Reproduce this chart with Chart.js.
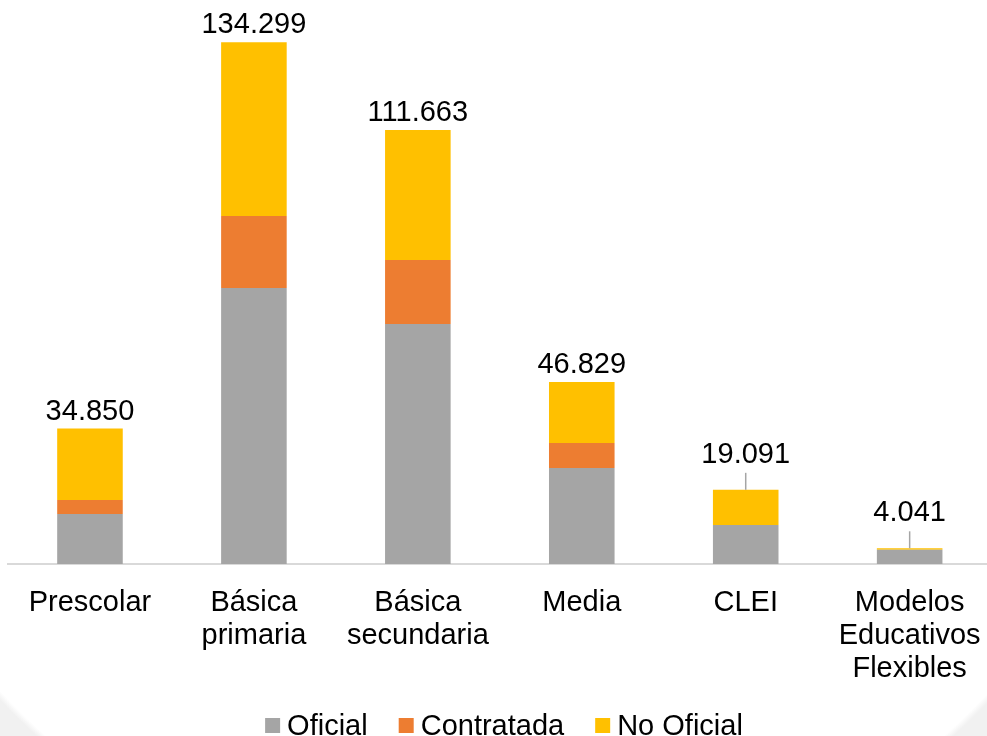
<!DOCTYPE html>
<html>
<head>
<meta charset="utf-8">
<script src="https://cdn.jsdelivr.net/npm/chart.js@4/dist/chart.umd.min.js"></script>
<style>
  html, body { margin: 0; padding: 0; overflow: hidden; }
  body {
    width: 987px;
    height: 736px;
    background: radial-gradient(ellipse 660px 620px at 495px 290px, #ffffff 99%, #f1f1f1 100%);
  }
  #wrap { position: absolute; left: 0; top: 0; width: 1003px; height: 736px; }
</style>
</head>
<body>
<div id="wrap"><canvas id="chart"></canvas></div>
<script>
const categories = [
  ['Prescolar'],
  ['Básica', 'primaria'],
  ['Básica', 'secundaria'],
  ['Media'],
  ['CLEI'],
  ['Modelos', 'Educativos', 'Flexibles']
];
const oficial = [12865, 71010, 61750, 24700, 10035, 3640];
const contratada = [3600, 18525, 16470, 6430, 0, 0];
const noOficial = [18385, 44764, 33443, 15699, 9056, 401];

const FONT = '"Liberation Sans", Arial, sans-serif';

function fmt(n) {
  return String(n).replace(/\B(?=(\d{3})+(?!\d))/g, '.');
}

// totals above each stack; the two small bars get a leader line
const totalLabels = {
  id: 'totalLabels',
  afterDatasetsDraw(chart) {
    const ctx = chart.ctx;
    const y = chart.scales.y;
    const meta = chart.getDatasetMeta(0);
    const lifted = [false, false, false, false, true, true];
    ctx.save();
    ctx.font = '29px ' + FONT;
    ctx.fillStyle = '#000';
    ctx.textAlign = 'center';
    ctx.textBaseline = 'alphabetic';
    meta.data.forEach((bar, i) => {
      const total = oficial[i] + contratada[i] + noOficial[i];
      const top = y.getPixelForValue(total);
      const x = bar.x;
      if (lifted[i]) {
        ctx.strokeStyle = '#a5a5a5';
        ctx.lineWidth = 1.5;
        ctx.beginPath();
        ctx.moveTo(x, top);
        ctx.lineTo(x, top - 17);
        ctx.stroke();
        ctx.fillText(fmt(total), x, top - 27);
      } else {
        ctx.fillText(fmt(total), x, top - 9);
      }
    });
    ctx.restore();
  }
};

// legend at the bottom, drawn by hand to match the square/text spacing
const bottomLegend = {
  id: 'bottomLegend',
  afterDraw(chart) {
    const ctx = chart.ctx;
    const items = chart.data.datasets.map((d) => ({ text: d.label, color: d.backgroundColor }));
    ctx.save();
    ctx.font = '29px ' + FONT;
    const box = 15, gap = 7, between = 31;
    let total = 0;
    items.forEach((it, i) => {
      it.w = ctx.measureText(it.text).width;
      total += box + gap + it.w + (i ? between : 0);
    });
    let x = 504 - total / 2;
    const cy = 725;
    ctx.textBaseline = 'alphabetic';
    items.forEach((it) => {
      ctx.fillStyle = it.color;
      ctx.fillRect(x, cy - 7, box, box);
      ctx.fillStyle = '#000';
      ctx.fillText(it.text, x + box + gap, cy + 10);
      x += box + gap + it.w + between;
    });
    ctx.restore();
  }
};

new Chart(document.getElementById('chart'), {
  type: 'bar',
  data: {
    labels: categories,
    datasets: [
      { label: 'Oficial', data: oficial, backgroundColor: '#a5a5a5' },
      { label: 'Contratada', data: contratada, backgroundColor: '#ed7d31' },
      { label: 'No Oficial', data: noOficial, backgroundColor: '#ffc000' }
    ]
  },
  options: {
    responsive: true,
    maintainAspectRatio: false,
    animation: false,
    categoryPercentage: 0.4,
    barPercentage: 1,
    layout: { padding: { left: 8, right: 5, top: 20, bottom: 42 } },
    plugins: {
      legend: { display: false },
      tooltip: { enabled: false }
    },
    scales: {
      x: {
        stacked: true,
        grid: { display: false, drawTicks: false },
        border: { display: true, color: '#d9d9d9', width: 2 },
        ticks: {
          color: '#000',
          padding: 22,
          font: { family: FONT, size: 29, lineHeight: 1.14 },
          maxRotation: 0,
          autoSkip: false
        },
        afterFit(scale) { scale.height = 130; }
      },
      y: {
        stacked: true,
        display: false,
        min: 0,
        max: 140000
      }
    }
  },
  plugins: [totalLabels, bottomLegend]
});
</script>
</body>
</html>
